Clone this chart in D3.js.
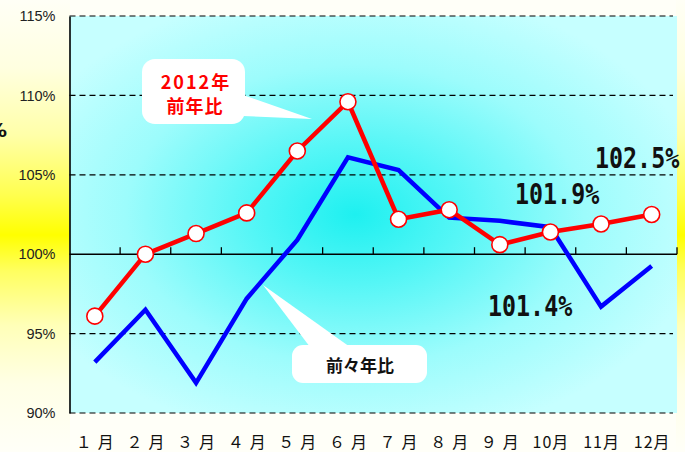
<!DOCTYPE html>
<html><head><meta charset="utf-8">
<script src="https://cdn.jsdelivr.net/npm/d3@7"></script>
<style>html,body{margin:0;padding:0;background:#fff;}svg{display:block;}</style>
</head><body>
<script>
const months = ["１月","２月","３月","４月","５月","６月","７月","８月","９月","10月","11月","12月"];
const redValues = [96.1, 100.0, 101.3, 102.6, 106.5, 109.6, 102.2, 102.8, 100.6, 101.4, 101.9, 102.5];
const blueValues = [93.2, 96.5, 91.9, 97.2, 100.9, 106.1, 105.3, 102.3, 102.1, 101.7, 96.7, 99.25];
const yTicks = [90, 95, 100, 105, 110, 115];
const yTickLabels = ["90%", "95%", "100%", "105%", "110%", "115%"];
const valueLabels = ["102.5%", "101.9%", "101.4%"];
const redName = ["2012年", "前年比"];
const blueName = "前々年比";

const W = 685, H = 452;
const svg = d3.select("body").append("svg").attr("width", W).attr("height", H);
const defs = svg.append("defs");

const bg = defs.append("linearGradient").attr("id","bg").attr("x1",0).attr("y1",0).attr("x2",0).attr("y2",1);
[[0,"#fffff6"],[0.15,"#ffffe0"],[0.3,"#ffffa8"],[0.43,"#ffff50"],[0.52,"#ffff00"],[0.6,"#ffff60"],[0.72,"#ffffb8"],[0.85,"#ffffe6"],[1,"#fffff8"]]
  .forEach(s => bg.append("stop").attr("offset", s[0]).attr("stop-color", s[1]));
const pg = defs.append("radialGradient").attr("id","pg").attr("cx",0.47).attr("cy",0.5).attr("r",0.58);
[[0,"#1ef0f0"],[0.3,"#55f6f6"],[0.65,"#9cfcfc"],[1,"#c6ffff"]]
  .forEach(s => pg.append("stop").attr("offset", s[0]).attr("stop-color", s[1]));

svg.append("rect").attr("width", W).attr("height", H).attr("fill", "#fffff8");
svg.append("rect").attr("x",0).attr("y",0).attr("width",70).attr("height",H).attr("fill","url(#bg)");
svg.append("rect").attr("x",676).attr("y",0).attr("width",9).attr("height",H).attr("fill","url(#bg)");

const pLeft = 69.5, pRight = 677, pTop = 16, pBottom = 413;
const x = d3.scaleBand().domain(months).range([pLeft, pRight]);
const y = d3.scaleLinear().domain([90, 115]).range([pBottom, pTop]);

svg.append("rect").attr("x", pLeft).attr("y", pTop).attr("width", pRight - pLeft).attr("height", pBottom - pTop).attr("fill", "url(#pg)");

const grid = svg.append("g");
yTicks.filter(v => v !== 100).forEach(v => {
  grid.append("line").attr("x1", pLeft).attr("x2", 673).attr("y1", y(v)).attr("y2", y(v))
    .attr("stroke", "#000").attr("stroke-width", 1.2).attr("stroke-dasharray", "6,4");
});

const yAxis = d3.axisLeft(y).tickValues(yTicks).tickSize(0).tickPadding(14)
  .tickFormat((d, i) => yTickLabels[i]);
const ya = svg.append("g").attr("transform", `translate(${pLeft},0)`).call(yAxis);
ya.select(".domain").attr("stroke", "#000").attr("stroke-width", 1.6);
ya.selectAll("text").attr("font-family", "'Liberation Sans', Arial, sans-serif").attr("font-size", 14.5).attr("fill", "#222");

const xAxisG = svg.append("g").attr("transform", `translate(0,${y(100)})`);
xAxisG.append("line").attr("x1", pLeft).attr("x2", pRight).attr("y1", 0).attr("y2", 0).attr("stroke", "#000").attr("stroke-width", 1.5);
months.forEach((m) => {
  const xb = x(m) + x.bandwidth();
  xAxisG.append("line").attr("x1", xb).attr("x2", xb).attr("y1", 0).attr("y2", -7).attr("stroke", "#000").attr("stroke-width", 1.3);
});

const xAxis = d3.axisBottom(x).tickSize(0).tickPadding(0);
const xa = svg.append("g").attr("transform", `translate(0,${pBottom})`).call(xAxis);
xa.select(".domain").remove();
xa.selectAll("text").attr("font-family", "'Noto Sans CJK JP', sans-serif").attr("font-size", 16).attr("fill", "#111")
  .attr("dy", 0).attr("y", 35)
  .attr("letter-spacing", d => d.length === 2 ? 6 : 1)
  .attr("dx", d => d.length === 2 ? 3 : 0.5);

const cx = d => x(d) + x.bandwidth() / 2;

const callouts = svg.append("g");
callouts.append("path").attr("d", "M243,95 L312,119 L243,116 Z").attr("fill", "#fff");
callouts.append("rect").attr("x", 142).attr("y", 59).attr("width", 103).attr("height", 65).attr("rx", 13).attr("fill", "#fff");
callouts.append("path").attr("d", "M263,285 L350,347 L310,347 Z").attr("fill", "#fff");
callouts.append("rect").attr("x", 292).attr("y", 345).attr("width", 135).attr("height", 38).attr("rx", 11).attr("fill", "#fff");

const line = d3.line().x((d, i) => cx(months[i])).y(d => y(d));
svg.append("path").datum(blueValues).attr("d", line).attr("fill", "none").attr("stroke", "#0000ff").attr("stroke-width", 4.5).attr("stroke-linejoin", "miter");
svg.append("path").datum(redValues).attr("d", line).attr("fill", "none").attr("stroke", "#ff0000").attr("stroke-width", 4.5).attr("stroke-linejoin", "miter");
svg.append("g").selectAll("circle").data(redValues).join("circle")
  .attr("cx", (d, i) => cx(months[i])).attr("cy", d => y(d)).attr("r", 8)
  .attr("fill", "#fff").attr("stroke", "#ff0000").attr("stroke-width", 1.6);

callouts.append("text").attr("x", 196).attr("y", 89).attr("text-anchor", "middle")
  .attr("font-family", "'Noto Sans CJK JP', sans-serif").attr("font-weight", "bold").attr("font-size", 18)
  .attr("letter-spacing", 2).attr("fill", "#ff0000").text(redName[0]);
callouts.append("text").attr("x", 195).attr("y", 113).attr("text-anchor", "middle")
  .attr("font-family", "'Noto Sans CJK JP', sans-serif").attr("font-weight", "bold").attr("font-size", 18)
  .attr("letter-spacing", 1).attr("fill", "#ff0000").text(redName[1]);
svg.append("text").attr("x", 360).attr("y", 372).attr("text-anchor", "middle")
  .attr("font-family", "'Noto Sans CJK JP', sans-serif").attr("font-weight", "bold").attr("font-size", 17)
  .attr("fill", "#111").text(blueName);

const vl = [[595, 168], [515, 204], [488, 316]];
valueLabels.forEach((t, i) => {
  svg.append("text").attr("transform", `translate(${vl[i][0]},${vl[i][1]}) scale(1.06,1.32)`)
    .attr("font-family", "'DejaVu Sans Mono', monospace").attr("font-weight", "bold").attr("font-size", 22)
    .attr("fill", "#111").text(t);
});

svg.append("text").attr("x", 7).attr("y", 137).attr("text-anchor", "end")
  .attr("font-family", "'DejaVu Sans', sans-serif").attr("font-weight", "bold").attr("font-size", 20).attr("fill", "#111").text("%");
</script>
</body></html>
